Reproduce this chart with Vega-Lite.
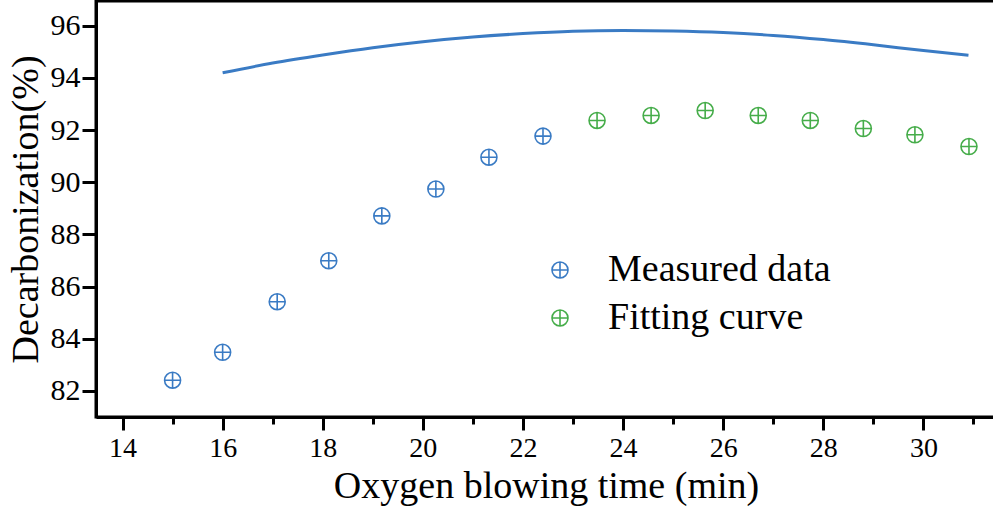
{
  "$schema": "https://vega.github.io/schema/vega-lite/v6.json",
  "width": 900,
  "height": 416,
  "autosize": {"type": "none"},
  "padding": {"left": 96, "top": 1, "right": 0, "bottom": 99},
  "background": "white",
  "config": {
    "font": "Liberation Serif",
    "view": {"stroke": "black", "strokeWidth": 3},
    "axis": {
      "domainColor": "black",
      "domainWidth": 3,
      "tickColor": "black",
      "tickWidth": 3,
      "grid": false,
      "labelFont": "Liberation Serif",
      "labelColor": "black",
      "labelFontSize": 29,
      "titleFont": "Liberation Serif",
      "titleColor": "black",
      "titleFontSize": 38,
      "titleFontWeight": "normal"
    }
  },
  "datasets": {
    "pts": [
      {"t": 15.0, "d": 82.41, "series": "Measured data"},
      {"t": 16.0, "d": 83.48, "series": "Measured data"},
      {"t": 17.09, "d": 85.42, "series": "Measured data"},
      {"t": 18.12, "d": 86.99, "series": "Measured data"},
      {"t": 19.18, "d": 88.71, "series": "Measured data"},
      {"t": 20.26, "d": 89.74, "series": "Measured data"},
      {"t": 21.32, "d": 90.96, "series": "Measured data"},
      {"t": 22.40, "d": 91.77, "series": "Measured data"},
      {"t": 23.48, "d": 92.37, "series": "Fitting curve"},
      {"t": 24.56, "d": 92.56, "series": "Fitting curve"},
      {"t": 25.64, "d": 92.75, "series": "Fitting curve"},
      {"t": 26.70, "d": 92.56, "series": "Fitting curve"},
      {"t": 27.74, "d": 92.37, "series": "Fitting curve"},
      {"t": 28.80, "d": 92.06, "series": "Fitting curve"},
      {"t": 29.83, "d": 91.82, "series": "Fitting curve"},
      {"t": 30.91, "d": 91.37, "series": "Fitting curve"}
    ],
    "curve": [
      {"t": 16, "d": 94.20},
      {"t": 17, "d": 94.57},
      {"t": 18, "d": 94.88},
      {"t": 19, "d": 95.16},
      {"t": 20, "d": 95.39},
      {"t": 21, "d": 95.57},
      {"t": 22, "d": 95.70},
      {"t": 23, "d": 95.79},
      {"t": 24, "d": 95.82},
      {"t": 25, "d": 95.80},
      {"t": 26, "d": 95.74},
      {"t": 27, "d": 95.63},
      {"t": 28, "d": 95.47},
      {"t": 29, "d": 95.27},
      {"t": 30, "d": 95.05},
      {"t": 30.9, "d": 94.87}
    ]
  },
  "layer": [
    {
      "data": {"name": "curve"},
      "mark": {"type": "line", "color": "#3a7bc4", "strokeWidth": 3, "interpolate": "monotone"},
      "encoding": {
        "x": {
          "field": "t", "type": "quantitative",
          "scale": {"domain": [13.47, 31.45], "nice": false, "zero": false},
          "axis": {
            "title": "Oxygen blowing time (min)",
            "values": [14,15,16,17,18,19,20,21,22,23,24,25,26,27,28,29,30,31],
            "labelExpr": "datum.value % 2 === 0 ? datum.label : ''",
            "tickSize": {"condition": {"test": "datum.value % 2 === 0", "value": 13}, "value": 7},
            "labelFontSize": 28,
            "labelPadding": 4,
            "titlePadding": 5
          }
        },
        "y": {
          "field": "d", "type": "quantitative",
          "scale": {"domain": [81, 96.95], "nice": false, "zero": false},
          "axis": {
            "title": "Decarbonization(%)",
            "values": [82,83,84,85,86,87,88,89,90,91,92,93,94,95,96],
            "labelExpr": "datum.value % 2 === 0 ? datum.label : ''",
            "tickSize": {"condition": {"test": "datum.value % 2 === 0", "value": 14}, "value": 7},
            "labelFontSize": 30,
            "labelPadding": 2,
            "titlePadding": 5
          }
        }
      }
    },
    {
      "data": {"name": "pts"},
      "mark": {
        "type": "point",
        "filled": false,
        "strokeWidth": 1.6,
        "size": 256,
        "opacity": 1,
        "shape": "M -1 0 A 1 1 0 1 0 1 0 A 1 1 0 1 0 -1 0 M -1 0 L 1 0 M 0 -1 L 0 1"
      },
      "encoding": {
        "x": {"field": "t", "type": "quantitative"},
        "y": {"field": "d", "type": "quantitative"},
        "color": {
          "field": "series", "type": "nominal",
          "scale": {"domain": ["Measured data", "Fitting curve"], "range": ["#3a7bc4", "#46ad4a"]},
          "legend": {
            "title": null,
            "orient": "none",
            "legendX": 445,
            "legendY": 250,
            "padding": 0,
            "symbolType": "M -1 0 A 1 1 0 1 0 1 0 A 1 1 0 1 0 -1 0 M -1 0 L 1 0 M 0 -1 L 0 1",
            "symbolSize": 256,
            "symbolStrokeWidth": 1.6,
            "symbolFillColor": "transparent",
            "labelFont": "Liberation Serif",
            "labelFontSize": 38,
            "labelColor": "black",
            "labelOffset": 29,
            "rowPadding": 10,
            "labelLimit": 500
          }
        }
      }
    }
  ]
}
